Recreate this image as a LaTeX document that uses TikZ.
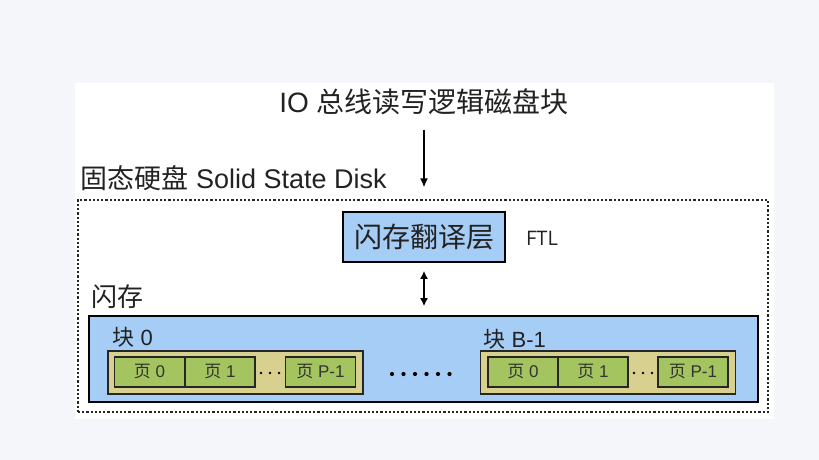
\documentclass[tikz,border=0pt]{standalone}
\usepackage{fontspec}
\setmainfont{Liberation Sans}
\newfontfamily\cjk{Noto Sans CJK SC}
\newfontfamily\ftlfont{Open Sans}
\usepackage{xcolor}
\usetikzlibrary{arrows.meta}
\definecolor{pagebg}{HTML}{F5F6FA}
\definecolor{flashblue}{HTML}{A5CDF5}
\definecolor{blocktan}{HTML}{D8D08E}
\definecolor{pagegreen}{HTML}{A3C45E}
\definecolor{txt}{HTML}{222222}
\tikzset{bluebox/.style={draw=black,fill=flashblue,line width=1.6pt,inner sep=0pt},
 tanbox/.style={draw=black!85,fill=blocktan,line width=1.2pt,minimum height=43pt,minimum width=255pt,inner sep=0pt},
 pagebox/.style={draw=black!85,fill=pagegreen,line width=1.2pt,minimum height=30pt,minimum width=70pt,inner sep=0pt,text=black!80,font=\fontsize{17}{20}\selectfont},
 dashbox/.style={draw=black!85,line width=1.3pt,dash pattern=on 2.2pt off 2pt,inner sep=0pt},
 arr/.style={line width=1.6pt,-{Latex[length=9pt,width=8pt]}},
 dblarr/.style={line width=1.6pt,{Latex[length=8pt,width=8pt]}-{Latex[length=8pt,width=8pt]}},
 dot/.style={circle,fill=black,inner sep=0pt},
 }

\begin{document}
\begin{tikzpicture}[x=1pt,y=-1pt,text=txt]
        \fill[pagebg] (0,0) rectangle (819,460);
        \fill[white] (75,83) rectangle (774,419);
        \node[font=\fontsize{28}{32}\selectfont] (title) at (424,102) {IO {\cjk 总线读写逻辑磁盘块}};
        \node[font=\fontsize{27}{30}\selectfont,anchor=west] (ssdlabel) at (77,178) {{\cjk 固态硬盘} Solid State Disk};
        \node[dashbox,minimum width=690pt,minimum height=212pt] (ssd) at (423,306) {};
        \node[bluebox,minimum width=162pt,minimum height=50pt,font=\cjk\fontsize{28}{30}\selectfont] (ftl) at (424,237) {闪存翻译层};
        \node[font=\ftlfont\fontsize{20}{22}\selectfont] (ftlname) at (542,238) {FTL};
        \node[font=\cjk\fontsize{26}{28}\selectfont,anchor=west] (flashlabel) at (88,297) {闪存};
        \node[bluebox,minimum width=669pt,minimum height=86pt] (flash) at (423.5,359) {};
        \draw[arr, shorten <=11pt, shorten >=12pt] (title.south) -- (title.south |- ssd.north);
        \draw[dblarr, shorten <=8pt, shorten >=9pt] (ftl.south) -- (ftl.south |- flash.north);
        % block 0
        \node[font=\fontsize{22}{24}\selectfont,anchor=west] (blk0label) at (109,337) {{\cjk 块} 0};
        \node[tanbox] (blk0) at (235.5,372.5) {};
        \node[pagebox] (pg00) at (149.5,372) {{\cjk 页} 0};
        \node[pagebox] (pg01) at (220,372) {{\cjk 页} 1};
        \node[pagebox] (pg0p) at (320.5,372) {{\cjk 页} P-1};
        \node[dot,minimum size=2.8pt] at (261,373) {};
        \node[dot,minimum size=2.8pt] at (270,373) {};
        \node[dot,minimum size=2.8pt] at (279,373) {};
        % between blocks
        \node[dot,minimum size=4.2pt] at (392,374) {};
        \node[dot,minimum size=4.2pt] at (403.5,374) {};
        \node[dot,minimum size=4.2pt] at (415,374) {};
        \node[dot,minimum size=4.2pt] at (426.5,374) {};
        \node[dot,minimum size=4.2pt] at (438,374) {};
        \node[dot,minimum size=4.2pt] at (449.5,374) {};
        % block B-1
        \node[font=\fontsize{22}{24}\selectfont,anchor=west] (blkBlabel) at (480,339) {{\cjk 块} B-1};
        \node[tanbox] (blkB) at (608,372.5) {};
        \node[pagebox] (pgB0) at (523,372) {{\cjk 页} 0};
        \node[pagebox] (pgB1) at (593,372) {{\cjk 页} 1};
        \node[pagebox] (pgBp) at (693,372) {{\cjk 页} P-1};
        \node[dot,minimum size=2.8pt] at (634,373) {};
        \node[dot,minimum size=2.8pt] at (643,373) {};
        \node[dot,minimum size=2.8pt] at (652,373) {};
    \end{tikzpicture}
\end{document}
